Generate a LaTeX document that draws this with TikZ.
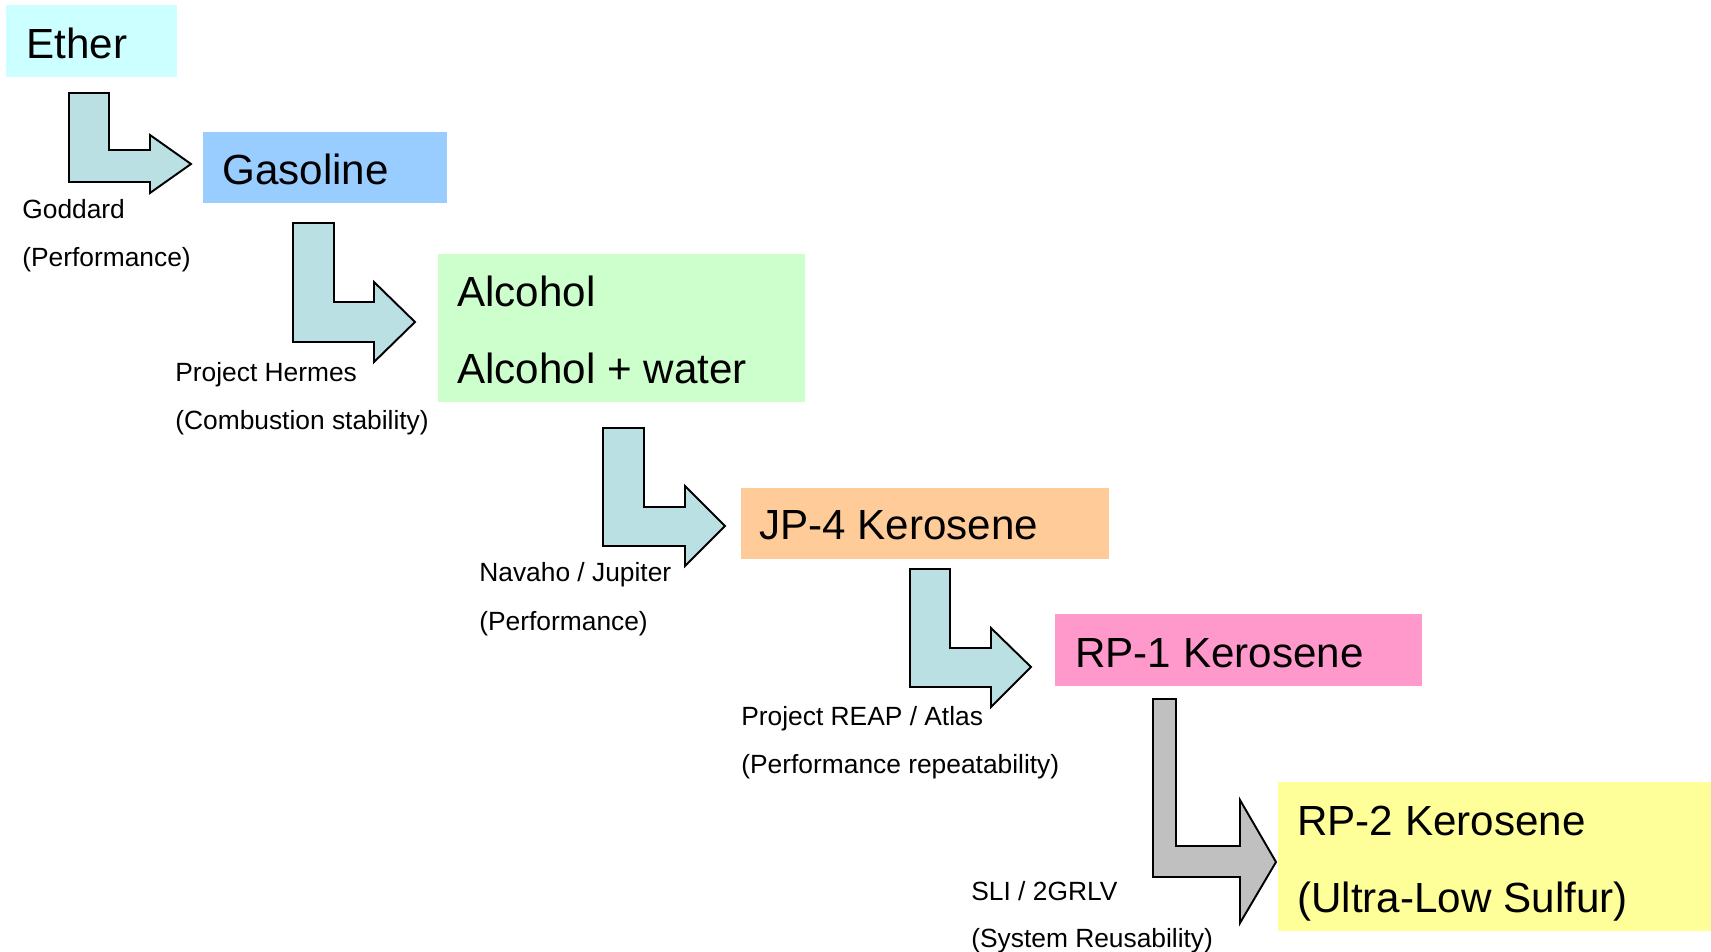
\documentclass[tikz,border=0pt]{standalone}
\usepackage{fontspec}
\setmainfont{Liberation Sans}
\usetikzlibrary{fit}
\definecolor{cether}{HTML}{CCFFFF}
\definecolor{cgasoline}{HTML}{99CCFF}
\definecolor{calcohol}{HTML}{CCFFCC}
\definecolor{cjpfour}{HTML}{FFCC99}
\definecolor{crpone}{HTML}{FF99CC}
\definecolor{crptwo}{HTML}{FFFF99}
\definecolor{cteal}{HTML}{BBE0E3}
\definecolor{cgrey}{HTML}{C0C0C0}
\tikzset{
  fuelbox/.style={fill=#1, inner sep=0pt},
  fuelname/.style={font=\fontsize{24}{28}\selectfont, anchor=base west, inner sep=0pt},
  project/.style={font=\fontsize{15}{18}\selectfont, anchor=base west, inner sep=0pt},
  turnarrow/.style={fill=#1, draw=black, line width=1.1pt, line join=miter},
  turnarrow/.default=cteal,
}

\begin{document}
\begin{tikzpicture}[x=0.02cm, y=-0.02cm]
  \useasboundingbox (0,0) rectangle (1711,952);
  % ---- fuel boxes
  \node[fuelbox=cether, fit={(6,5) (177,77)}] (ether) {};
  \node[fuelbox=cgasoline, fit={(203,132) (447,203)}] (gasoline) {};
  \node[fuelbox=calcohol, fit={(438,254) (805,402)}] (alcohol) {};
  \node[fuelbox=cjpfour, fit={(741,488) (1109,559)}] (jpfour) {};
  \node[fuelbox=crpone, fit={(1055,614) (1422,686)}] (rpone) {};
  \node[fuelbox=crptwo, fit={(1278,782) (1711,931)}] (rptwo) {};
  \node[fuelname] (ethertxt) at (26,59) {Ether};
  \node[fuelname] (gasolinetxt) at (222,185) {Gasoline};
  \node[fuelname] (alcoholtxt) at (457,307) {Alcohol};
  \node[fuelname] (alcwatertxt) at (457,384) {Alcohol + water};
  \node[fuelname] (jpfourtxt) at (759,540) {JP-4 Kerosene};
  \node[fuelname] (rponetxt) at (1075,667) {RP-1 Kerosene};
  \node[fuelname] (rptwotxt) at (1297,835) {RP-2 Kerosene};
  \node[fuelname] (sulfurtxt) at (1297,912) {(Ultra-Low Sulfur)};
  % ---- transition arrows
  \draw[turnarrow] (69,93) -- (109,93) -- (109,150) -- (150,150) -- (150,135) -- (191,164)
    -- (150,193) -- (150,182) -- (69,182) -- cycle;
  \draw[turnarrow] (293,223) -- (334,223) -- (334,302) -- (374,302) -- (374,282) -- (415,322)
    -- (374,362) -- (374,342) -- (293,342) -- cycle;
  \draw[turnarrow] (603,428) -- (644,428) -- (644,507) -- (685,507) -- (685,486) -- (725,526)
    -- (685,566) -- (685,546) -- (603,546) -- cycle;
  \draw[turnarrow] (910,569) -- (950,569) -- (950,648) -- (991,648) -- (991,628) -- (1031,667)
    -- (991,707) -- (991,687) -- (910,687) -- cycle;
  \draw[turnarrow=cgrey] (1153,699) -- (1176,699) -- (1176,846) -- (1240,846) -- (1240,800)
    -- (1276,862) -- (1240,923) -- (1240,877) -- (1153,877) -- cycle;
  % ---- programmes and reasons
  \node[project] (goddard) at (22,219) {Goddard};
  \node[project] (goddardwhy) at (22,267) {(Performance)};
  \node[project] (hermes) at (175,382) {Project Hermes};
  \node[project] (hermeswhy) at (175,430) {(Combustion stability)};
  \node[project] (navaho) at (479,582) {Navaho / Jupiter};
  \node[project] (navahowhy) at (479,630) {(Performance)};
  \node[project] (reap) at (741,725) {Project REAP / Atlas};
  \node[project] (reapwhy) at (741,773) {(Performance repeatability)};
  \node[project] (sli) at (971,900) {SLI / 2GRLV};
  \node[project] (sliwhy) at (971,947) {(System Reusability)};
\end{tikzpicture}
\end{document}
